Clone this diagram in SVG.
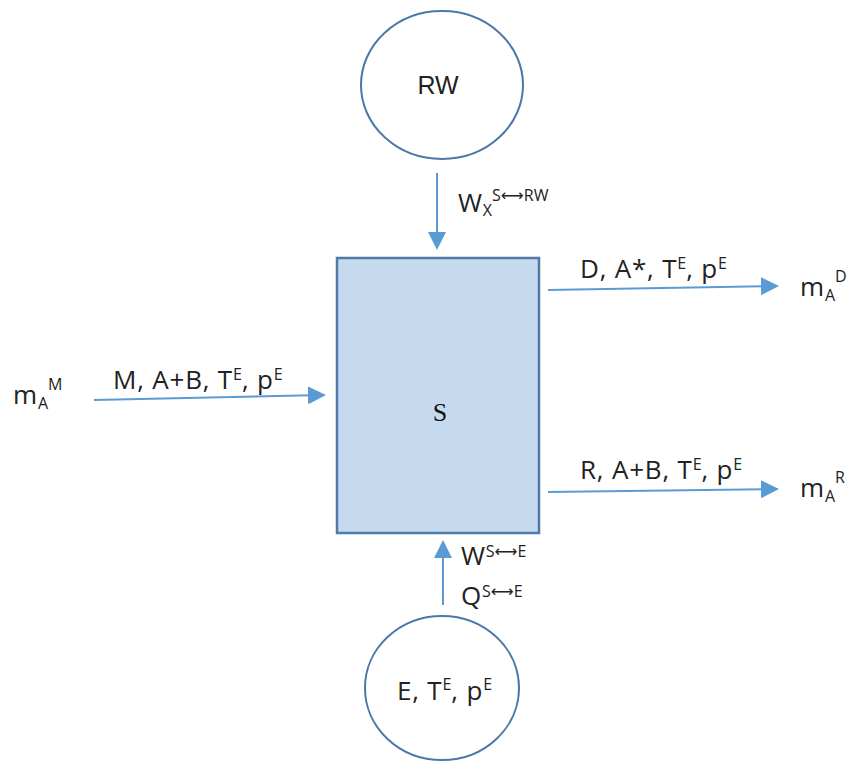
<svg xmlns="http://www.w3.org/2000/svg" width="853" height="765" viewBox="0 0 853 765">
<style>
.t{font-family:"Open Sans","Noto Sans","Liberation Sans",sans-serif;font-size:26px;fill:#222;letter-spacing:0.8px}
.s{font-size:16px;letter-spacing:0}
.ar{font-family:"DejaVu Sans",sans-serif;font-size:16px;letter-spacing:0}
.node{fill:#fff;stroke:#4a78a8;stroke-width:2}
.conn{stroke:#5b9bd5;stroke-width:2;fill:none;marker-end:url(#ah)}
</style>
<defs>
<marker id="ah" markerWidth="9" markerHeight="9" refX="8" refY="4.5" orient="auto" markerUnits="strokeWidth">
<path d="M0,0 L9,4.5 L0,9 Z" fill="#5b9bd5"/>
</marker>
</defs>
<rect width="853" height="765" fill="#fff"/>
<g id="node-RW">
<ellipse class="node" cx="442" cy="85" rx="81" ry="74"/>
<text x="438" y="94" text-anchor="middle" font-family="Liberation Sans,Arial,sans-serif" font-size="25" fill="#222">RW</text>
</g>
<g id="node-S">
<rect x="337" y="258" width="202" height="275" fill="#c5d9ef" stroke="#4f7ba8" stroke-width="2.5"/>
<text x="440" y="421" text-anchor="middle" font-family="Liberation Serif,serif" font-size="26" fill="#111">S</text>
</g>
<g id="node-E">
<ellipse class="node" cx="442" cy="688" rx="77" ry="72"/>
<text class="t" x="397" y="700" font-size="27" letter-spacing="0.3">E, T<tspan class="s" font-size="17" dy="-10">E</tspan><tspan dy="10">, p</tspan><tspan class="s" font-size="17" dy="-10">E</tspan></text>
</g>
<g id="connectors">
<line class="conn" x1="437" y1="173" x2="437" y2="248"/>
<line class="conn" x1="443" y1="605" x2="443" y2="542"/>
<line class="conn" x1="94" y1="400" x2="324" y2="395"/>
<line class="conn" x1="548" y1="290" x2="777" y2="286"/>
<line class="conn" x1="548" y1="492" x2="777" y2="489"/>
</g>
<g id="labels">
<text class="t" x="458" y="212">W<tspan class="s" dy="4">X</tspan><tspan class="s" dy="-15">S</tspan><tspan class="ar">⟷</tspan><tspan class="s">RW</tspan></text>
<text class="t" x="580" y="278">D, A*, T<tspan class="s" dy="-9">E</tspan><tspan dy="9">, p</tspan><tspan class="s" dy="-9">E</tspan></text>
<text class="t" x="800" y="296">m<tspan class="s" dy="5">A</tspan><tspan class="s" dy="-19">D</tspan></text>
<text class="t" x="113" y="389">M, A+B, T<tspan class="s" dy="-9">E</tspan><tspan dy="9">, p</tspan><tspan class="s" dy="-9">E</tspan></text>
<text class="t" x="13" y="404">m<tspan class="s" dy="5">A</tspan><tspan class="s" dy="-19">M</tspan></text>
<text class="t" x="580" y="479">R, A+B, T<tspan class="s" dy="-9">E</tspan><tspan dy="9">, p</tspan><tspan class="s" dy="-9">E</tspan></text>
<text class="t" x="800" y="497">m<tspan class="s" dy="5">A</tspan><tspan class="s" dy="-19">R</tspan></text>
<text class="t" x="461" y="565">W<tspan class="s" dy="-8">S</tspan><tspan class="ar">⟷</tspan><tspan class="s">E</tspan></text>
<text class="t" x="461" y="605">Q<tspan class="s" dy="-8">S</tspan><tspan class="ar">⟷</tspan><tspan class="s">E</tspan></text>
</g>
</svg>
